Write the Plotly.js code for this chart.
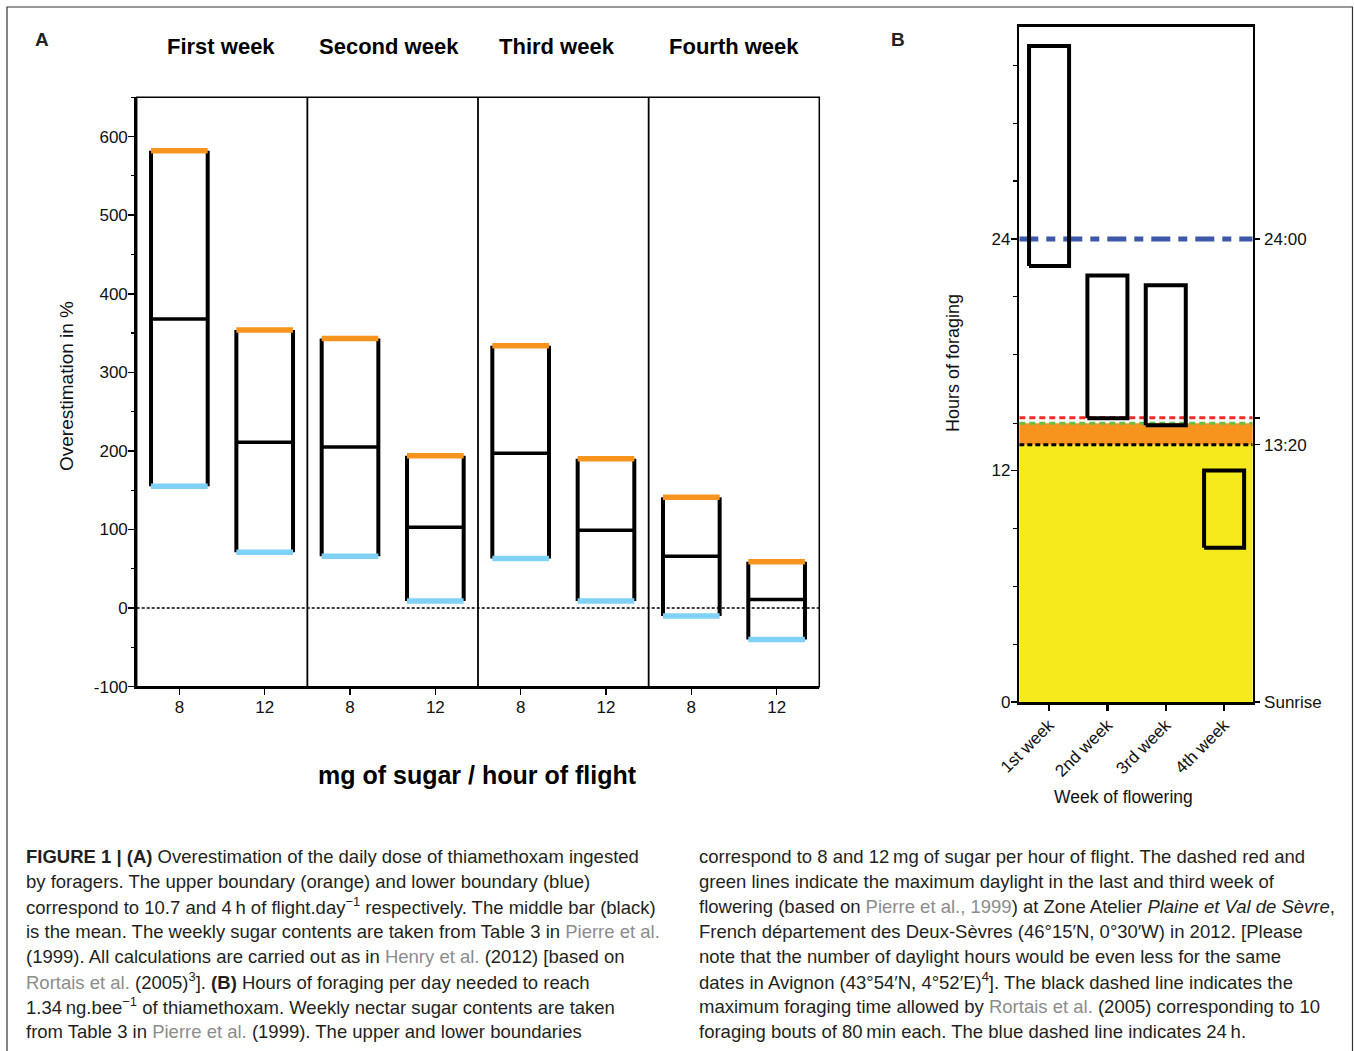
<!DOCTYPE html>
<html>
<head>
<meta charset="utf-8">
<script src="https://cdn.plot.ly/plotly-3.0.1.min.js"></script>
<style>html,body{margin:0;padding:0;background:#fff;}#chart{width:1354px;height:1051px;}</style>
</head>
<body>
<div id="chart"></div>
<script>
// ---------- Panel A data ----------
const weeks = ["First week", "Second week", "Third week", "Fourth week"];
const sugarLevels = ["8", "12"];
// order: week1-8, week1-12, week2-8, week2-12, week3-8, week3-12, week4-8, week4-12
const upperA = [582, 354, 343, 194, 334, 190, 141, 59];   // 10.7 h of flight (orange)
const meanA  = [368, 211, 205, 103, 197, 99, 66, 11];     // mean (black)
const lowerA = [155, 71, 66, 9, 63, 9, -10, -40];         // 4 h of flight (blue)
const yTickValsA = [-100, 0, 100, 200, 300, 400, 500, 600];
const yTickTextA = ["-100", "0", "100", "200", "300", "400", "500", "600"];

// ---------- Panel B data ----------
const weekLabels = ["1st week", "2nd week", "3rd week", "4th week"];
const hoursUpper = [34.0, 22.1, 21.6, 12.0];
const hoursLower = [22.6, 14.7, 14.35, 8.0];
const fullDay = 24;            // blue dashed line
const maxForaging = 40 / 3;    // 13:20 black dashed line
const daylightThird = 14.45;   // green dashed line
const daylightLast = 14.73;    // red dashed line
const yTickValsB = [0, 12, 24];
const yTickTextB = ["0", "12", "24"];

// ---------- Caption ----------
const grey = s => '<span style="color:#8c8c8c">' + s + '</span>';
const captionLeft = [
  "<b>FIGURE 1 | (A)</b> Overestimation of the daily dose of thiamethoxam ingested",
  "by foragers. The upper boundary (orange) and lower boundary (blue)",
  "correspond to 10.7 and 4\u2009h of flight.day<sup>\u22121</sup> respectively. The middle bar (black)",
  "is the mean. The weekly sugar contents are taken from Table 3 in " + grey("Pierre et al."),
  "(1999). All calculations are carried out as in " + grey("Henry et al.") + " (2012) [based on",
  grey("Rortais et al.") + " (2005)<sup>3</sup>]. <b>(B)</b> Hours of foraging per day needed to reach",
  "1.34\u2009ng.bee<sup>\u22121</sup> of thiamethoxam. Weekly nectar sugar contents are taken",
  "from Table 3 in " + grey("Pierre et al.") + " (1999). The upper and lower boundaries"
];
const captionRight = [
  "correspond to 8 and 12\u2009mg of sugar per hour of flight. The dashed red and",
  "green lines indicate the maximum daylight in the last and third week of",
  "flowering (based on " + grey("Pierre et al., 1999") + ") at Zone Atelier <i>Plaine et Val de S\u00e8vre</i>,",
  "French d\u00e9partement des Deux-S\u00e8vres (46\u00b015\u2032N, 0\u00b030\u2032W) in 2012. [Please",
  "note that the number of daylight hours would be even less for the same",
  "dates in Avignon (43\u00b054\u2032N, 4\u00b052\u2032E)<sup>4</sup>]. The black dashed line indicates the",
  "maximum foraging time allowed by " + grey("Rortais et al.") + " (2005) corresponding to 10",
  "foraging bouts of 80\u2009min each. The blue dashed line indicates 24\u2009h."
];

// ---------- geometry helpers ----------
const W = 1354, H = 1051;
const px = v => v / W;
const py = v => 1 - v / H;
const FONT = "Liberation Sans, Arial, Helvetica, sans-serif";

const nA = upperA.length;
const halfA = 0.332;
const xRangeA = [0, nA];
const yRangeA = [-100, 650];

function segs(xFn, yFn, count) {
  const xs = [], ys = [];
  for (let i = 0; i < count; i++) {
    const s = xFn(i), t = yFn(i);
    xs.push(s[0], s[1], null); ys.push(t[0], t[1], null);
  }
  return {x: xs, y: ys};
}

const sidesL = segs(i => [i + 0.5 - halfA, i + 0.5 - halfA], i => [lowerA[i], upperA[i]], nA);
const sidesR = segs(i => [i + 0.5 + halfA, i + 0.5 + halfA], i => [lowerA[i], upperA[i]], nA);
const meanSeg = segs(i => [i + 0.5 - halfA, i + 0.5 + halfA], i => [meanA[i], meanA[i]], nA);
const upSeg = segs(i => [i + 0.5 - halfA, i + 0.5 + halfA], i => [upperA[i], upperA[i]], nA);
const lowSeg = segs(i => [i + 0.5 - halfA, i + 0.5 + halfA], i => [lowerA[i], lowerA[i]], nA);

const base = {type: 'scatter', mode: 'lines', hoverinfo: 'skip', showlegend: false};
const traces = [];
traces.push(Object.assign({}, base, {x: xRangeA, y: [0, 0], line: {color: '#000', width: 1.5, dash: '3px,2px'}}));
traces.push(Object.assign({}, base, {x: sidesL.x.concat(sidesR.x), y: sidesL.y.concat(sidesR.y), line: {color: '#000', width: 4}}));
traces.push(Object.assign({}, base, {x: meanSeg.x, y: meanSeg.y, line: {color: '#000', width: 3.5}}));
traces.push(Object.assign({}, base, {x: upSeg.x, y: upSeg.y, line: {color: '#F7941D', width: 5.5}}));
traces.push(Object.assign({}, base, {x: lowSeg.x, y: lowSeg.y, line: {color: '#7FD1F5', width: 5.5}}));

// ---------- Panel B traces ----------
const nB = hoursUpper.length;
const halfB = 0.343;
const xRangeB = [-0.51, nB - 0.51];
const yRangeB = [0, 35];

traces.push(Object.assign({}, base, {x: xRangeB, y: [daylightLast, daylightLast], xaxis: 'x2', yaxis: 'y2', line: {color: '#EE2B24', width: 3, dash: '6px,4px'}}));
traces.push(Object.assign({}, base, {x: xRangeB, y: [daylightThird, daylightThird], xaxis: 'x2', yaxis: 'y2', line: {color: '#6CBD45', width: 3, dash: '6px,4px'}}));
traces.push(Object.assign({}, base, {x: xRangeB, y: [fullDay, fullDay], xaxis: 'x2', yaxis: 'y2', line: {color: '#3D58A8', width: 5, dash: '19px,8px,9px,8px'}}));

const bx = [], by = [];
for (let i = 0; i < nB; i++) {
  const a = i - halfB, b = i + halfB;
  bx.push(a, b, b, a, a, null);
  by.push(hoursLower[i], hoursLower[i], hoursUpper[i], hoursUpper[i], hoursLower[i], null);
}
traces.push(Object.assign({}, base, {x: bx, y: by, xaxis: 'x2', yaxis: 'y2', line: {color: '#000', width: 4}}));
traces.push(Object.assign({}, base, {x: xRangeB, y: [maxForaging, maxForaging], xaxis: 'x2', yaxis: 'y3', line: {color: '#000', width: 3, dash: '5px,3px'}}));

// ---------- layout ----------
const tickFont = {family: FONT, size: 17, color: '#111'};
const layout = {
  width: W, height: H,
  margin: {l: 0, r: 0, t: 0, b: 0},
  paper_bgcolor: '#fff', plot_bgcolor: 'rgba(0,0,0,0)',
  showlegend: false,
  xaxis: {
    domain: [px(136.7), px(819.3)], range: xRangeA, anchor: 'y',
    tickmode: 'array', tickvals: upperA.map((_, i) => i + 0.5),
    ticktext: upperA.map((_, i) => sugarLevels[i % 2]),
    ticks: 'outside', ticklen: 6, tickwidth: 1.5, tickcolor: '#000', ticklabelstandoff: -3,
    showline: true, linewidth: 2.5, linecolor: '#000',
    showgrid: false, zeroline: false, tickfont: tickFont, fixedrange: true
  },
  yaxis: {
    domain: [py(686.7), py(97.3)], range: yRangeA, anchor: 'x',
    tickmode: 'array', tickvals: yTickValsA, ticktext: yTickTextA,
    minor: {dtick: 50, tick0: -100, ticks: 'outside', ticklen: 3, tickwidth: 1.2, tickcolor: '#000', showgrid: false},
    ticks: 'outside', ticklen: 6, tickwidth: 1.5, tickcolor: '#000', ticklabelstandoff: -3,
    showline: true, linewidth: 2.5, linecolor: '#000',
    showgrid: false, zeroline: false, tickfont: tickFont, fixedrange: true
  },
  xaxis2: {
    domain: [px(1019.3), px(1252.7)], range: xRangeB, anchor: 'y2',
    tickmode: 'array', tickvals: weekLabels.map((_, i) => i), ticktext: weekLabels, tickangle: -45,
    ticks: 'outside', ticklen: 6, tickwidth: 2.5, tickcolor: '#000', ticklabelstandoff: -2,
    showline: true, mirror: true, linewidth: 2.5, linecolor: '#000',
    showgrid: false, zeroline: false, tickfont: tickFont, fixedrange: true
  },
  yaxis2: {
    domain: [py(702), py(26.7)], range: yRangeB, anchor: 'x2',
    tickmode: 'array', tickvals: yTickValsB, ticktext: yTickTextB,
    minor: {tickmode: 'array', tickvals: [3, 6, 9, daylightThird, 18, 21, 27, 30, 33], ticks: 'outside', ticklen: 4, tickwidth: 1.2, tickcolor: '#000', showgrid: false},
    ticks: 'outside', ticklen: 6, tickwidth: 1.5, tickcolor: '#000', ticklabelstandoff: -3,
    showline: true, mirror: true, linewidth: 2.5, linecolor: '#000',
    showgrid: false, zeroline: false, tickfont: tickFont, fixedrange: true
  },
  yaxis3: {
    overlaying: 'y2', side: 'right', anchor: 'x2', range: yRangeB,
    tickmode: 'array', tickvals: [0, maxForaging, daylightLast, fullDay], ticktext: ['Sunrise', '13:20', ' ', '24:00'],
    ticks: 'outside', ticklen: 6, tickwidth: 1.5, tickcolor: '#000', ticklabelstandoff: 1,
    showline: false, showgrid: false, zeroline: false, tickfont: tickFont, fixedrange: true
  },
  shapes: [
    // outer frame
    {type: 'rect', xref: 'paper', yref: 'paper', x0: px(7), x1: px(1352.5), y0: -0.02, y1: py(7), line: {color: '#333', width: 1.2}},
    // panel A top/right border
    {type: 'rect', xref: 'x domain', yref: 'y domain', x0: 0, x1: 1, y0: 0, y1: 1, line: {color: '#000', width: 1.5}},
    // panel A week dividers
    ...[2, 4, 6].map(v => ({type: 'line', xref: 'x', yref: 'y domain', x0: v, x1: v, y0: 0, y1: 1, line: {color: '#000', width: 1.8}})),
    // panel B bands
    {type: 'rect', layer: 'below', xref: 'x2 domain', yref: 'y2', x0: 0, x1: 1, y0: 0, y1: maxForaging, fillcolor: '#F4EA1C', line: {width: 0}},
    {type: 'rect', layer: 'below', xref: 'x2 domain', yref: 'y2', x0: 0, x1: 1, y0: maxForaging, y1: daylightThird, fillcolor: '#F7941D', line: {width: 0}}
  ],
  annotations: []
};

const ann = layout.annotations;
function addText(text, x, y, opts) {
  ann.push(Object.assign({text: text, xref: 'paper', yref: 'paper', x: px(x), y: py(y), showarrow: false,
    xanchor: 'center', yanchor: 'middle', font: {family: FONT, size: 16, color: '#111'}}, opts || {}));
}
addText('<b>A</b>', 42, 39, {font: {family: FONT, size: 19, color: '#222'}});
addText('<b>B</b>', 898, 39, {font: {family: FONT, size: 19, color: '#222'}});
const weekCenters = [221, 389, 557, 734];
weeks.forEach((w, i) => addText('<b>' + w + '</b>', weekCenters[i], 46, {font: {family: FONT, size: 22, color: '#000'}}));
addText('Overestimation in %', 66, 386, {textangle: -90, font: {family: FONT, size: 19, color: '#111'}});
addText('<b>mg of sugar / hour of flight</b>', 477, 775, {font: {family: FONT, size: 25, color: '#000'}});
addText('Hours of foraging', 953, 363, {textangle: -90, font: {family: FONT, size: 18, color: '#111'}});
addText('Week of flowering', 1123, 797, {font: {family: FONT, size: 17.5, color: '#111'}});

const capFont = {family: FONT, size: 18.5, color: '#231F20'};
captionLeft.forEach((t, i) => addText(t, 24, 856 + 25 * i, {xanchor: 'left', font: capFont}));
captionRight.forEach((t, i) => addText(t, 697, 856 + 25 * i, {xanchor: 'left', font: capFont}));

Plotly.newPlot('chart', traces, layout, {staticPlot: true, displayModeBar: false});
</script>
</body>
</html>
